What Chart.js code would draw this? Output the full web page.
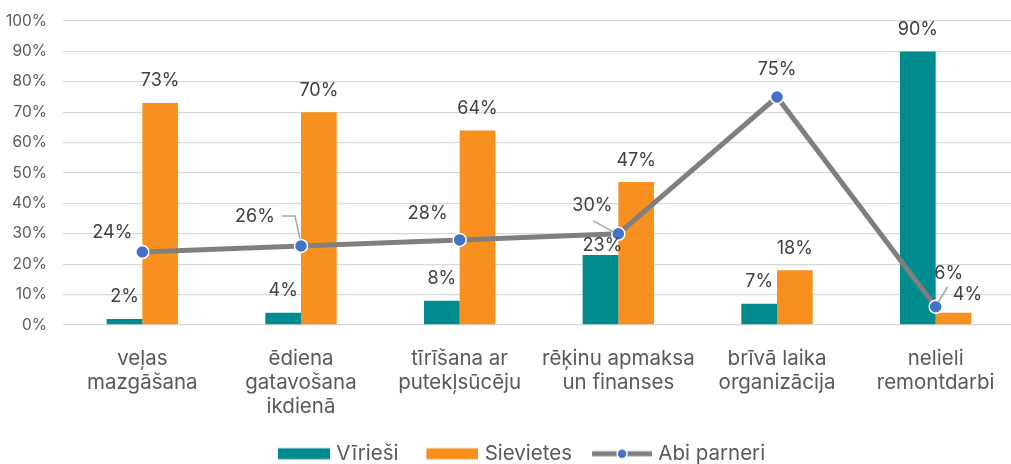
<!DOCTYPE html>
<html>
<head>
<meta charset="utf-8">
<script src="https://cdn.jsdelivr.net/npm/chart.js@4.4.1/dist/chart.umd.min.js"></script>
<style>
  html, body { margin: 0; padding: 0; background: #fff; overflow: hidden; }
  #wrap { width: 1023px; height: 464px; }
</style>
</head>
<body>
<div id="wrap"><canvas id="choresChart" width="1023" height="464"></canvas></div>
<script>
const categories = [
  ['veļas', 'mazgāšana'],
  ['ēdiena', 'gatavošana', 'ikdienā'],
  ['tīrīšana ar', 'putekļsūcēju'],
  ['rēķinu apmaksa', 'un finanses'],
  ['brīvā laika', 'organizācija'],
  ['nelieli', 'remontdarbi']
];
const seriesNames = ['Vīrieši', 'Sievietes', 'Abi parneri'];
const men = [2, 4, 8, 23, 7, 90];
const women = [73, 70, 64, 47, 18, 4];
const both = [24, 26, 28, 30, 75, 6];

const TEAL = '#008B8E';
const ORANGE = '#F7901E';
const GREY_LINE = '#7F7F7F';
const DOT = '#4472C4';
const TEXT = '#595959';
const FONT = 'Inter, "Noto Sans", sans-serif';

// label nudges: bars are shifted from the spot above the bar,
// line labels are placed relative to their point, some with a leader line
const barNudge = { '0-3': [2, 13], '1-5': [14, 4] };
const lineNudge = [
  { at: [-30, -19] },
  { at: [-46, -29], leader: [[-19, -30], [-6, -30], [-1, -7]] },
  { at: [-32, -26] },
  { at: [-26, -28], leader: [[-25, -13], [-5, -2]] },
  { at: [0, -27] },
  { at: [13, -33], leader: [[12, -20], [3, -5]] }
];

// legend swatches: transparent on the left so the gap before each
// swatch is wider than the gap between swatch and text
const SW_W = 68, SW_H = 14;
function boxSwatch(color) {
  const c = document.createElement('canvas');
  c.width = SW_W; c.height = SW_H;
  const g = c.getContext('2d');
  g.fillStyle = color;
  g.fillRect(SW_W - 52, 1.5, 52, 11);
  return c;
}

function lineSwatch() {
  const c = document.createElement('canvas');
  c.width = SW_W; c.height = SW_H;
  const g = c.getContext('2d');
  const x0 = SW_W - 60;
  g.strokeStyle = GREY_LINE;
  g.lineWidth = 5;
  g.beginPath(); g.moveTo(x0, 7); g.lineTo(SW_W, 7); g.stroke();
  g.beginPath(); g.arc(x0 + 30, 7, 5, 0, Math.PI * 2);
  g.fillStyle = DOT; g.fill();
  g.strokeStyle = '#fff'; g.lineWidth = 1.5; g.stroke();
  return c;
}

const valueLabels = {
  id: 'valueLabels',
  afterDatasetsDraw(chart) {
    const ctx = chart.ctx;
    ctx.save();
    ctx.font = '18px ' + FONT;
    ctx.fillStyle = '#404040';
    ctx.textAlign = 'center';
    ctx.textBaseline = 'middle';
    chart.data.datasets.forEach((ds, di) => {
      const meta = chart.getDatasetMeta(di);
      meta.data.forEach((el, i) => {
        const txt = ds.data[i] + '%';
        if (ds.type === 'line') {
          const n = lineNudge[i];
          if (n.leader) {
            ctx.strokeStyle = '#A6A6A6';
            ctx.lineWidth = 1.5;
            ctx.beginPath();
            n.leader.forEach((p, k) => {
              if (k === 0) ctx.moveTo(el.x + p[0], el.y + p[1]);
              else ctx.lineTo(el.x + p[0], el.y + p[1]);
            });
            ctx.stroke();
          }
          ctx.fillText(txt, el.x + n.at[0], el.y + n.at[1]);
        } else {
          const n = barNudge[di + '-' + i] || [0, 0];
          ctx.fillText(txt, el.x + n[0], el.y - 22 + n[1]);
        }
      });
    });
    ctx.restore();
  }
};

// move the legend a little lower and right of where the layout puts it
const legendShift = {
  id: 'legendShift',
  afterLayout(chart) {
    const lg = chart.legend;
    lg.top += 10; lg.bottom += 10;
    lg.left += 4; lg.right += 4;
  }
};

new Chart(document.getElementById('choresChart'), {
  data: {
    labels: categories,
    datasets: [
      {
        type: 'bar', label: seriesNames[0], data: men, order: 2,
        backgroundColor: TEAL, categoryPercentage: 0.45, barPercentage: 1
      },
      {
        type: 'bar', label: seriesNames[1], data: women, order: 2,
        backgroundColor: ORANGE, categoryPercentage: 0.45, barPercentage: 1
      },
      {
        type: 'line', label: seriesNames[2], data: both, order: 1,
        borderColor: GREY_LINE, borderWidth: 5, tension: 0,
        pointRadius: 6.5, pointBackgroundColor: DOT,
        pointBorderColor: '#fff', pointBorderWidth: 1.5
      }
    ]
  },
  options: {
    responsive: false,
    animation: false,
    layout: { padding: 0 },
    plugins: {
      tooltip: { enabled: false },
      legend: {
        position: 'bottom',
        labels: {
          usePointStyle: true,
          pointStyleWidth: 60,
          padding: 16,
          color: TEXT,
          font: { family: FONT, size: 20.5 },
          generateLabels: () => [
            { text: seriesNames[0], pointStyle: boxSwatch(TEAL), fontColor: TEXT, datasetIndex: 0 },
            { text: seriesNames[1], pointStyle: boxSwatch(ORANGE), fontColor: TEXT, datasetIndex: 1 },
            { text: seriesNames[2], pointStyle: lineSwatch(), fontColor: TEXT, datasetIndex: 2 }
          ]
        }
      }
    },
    scales: {
      x: {
        grid: { display: false },
        border: { display: false },
        ticks: {
          color: TEXT, padding: 14, maxRotation: 0, autoSkip: false,
          font: { family: FONT, size: 20.5, lineHeight: 24 / 20.5 }
        },
        afterFit(scale) { scale.height = 92.5; }
      },
      y: {
        min: 0, max: 100,
        grid: { color: '#D9D9D9', lineWidth: 1.3, drawTicks: false },
        border: { display: false },
        ticks: {
          stepSize: 10, padding: 16, color: TEXT,
          font: { family: FONT, size: 15.5 },
          callback: v => v + '%'
        },
        afterFit(scale) {
          scale.width = 63;
          scale.paddingTop = 21;
        }
      }
    }
  },
  plugins: [valueLabels, legendShift]
});
</script>
</body>
</html>
